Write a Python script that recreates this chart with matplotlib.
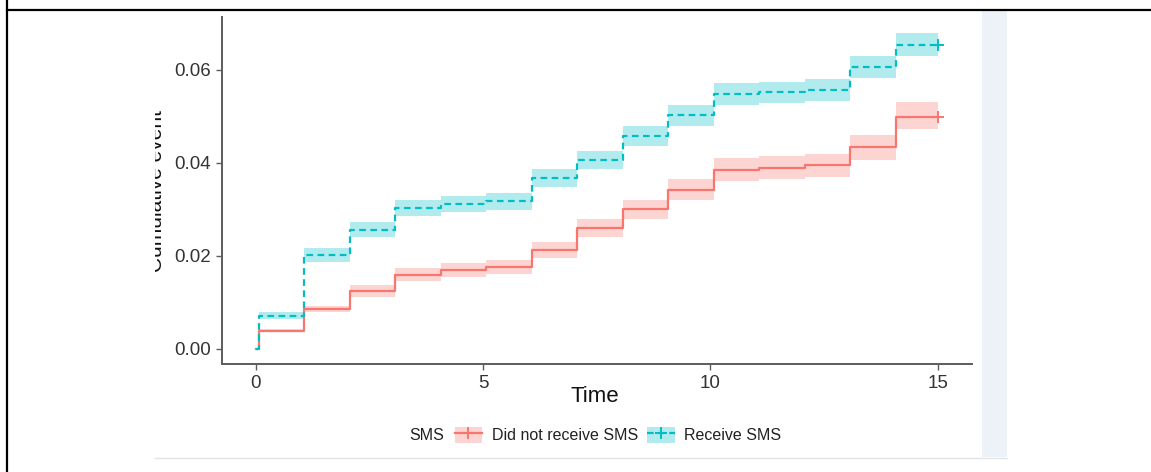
import matplotlib
matplotlib.use("Agg")
import matplotlib.pyplot as plt
from matplotlib.lines import Line2D
from matplotlib.patches import Patch, Rectangle
from matplotlib.transforms import Bbox, TransformedBbox

plt.rcParams["font.family"] = ["Liberation Sans", "DejaVu Sans"]

# event times (same for both groups) and end of follow-up
times = [0.0, 0.07, 1.07, 2.07, 3.07, 4.07, 5.07, 6.07, 7.07, 8.07,
         9.07, 10.07, 11.07, 12.07, 13.07, 14.07]
t_end = 15

# Receive SMS
sms_est = [0.0, 0.0071, 0.0202, 0.0256, 0.0303, 0.0312, 0.0317, 0.0367,
           0.0406, 0.0458, 0.0502, 0.0548, 0.0552, 0.0557, 0.0607, 0.0654]
sms_low = [0.0, 0.0063, 0.0187, 0.0240, 0.0286, 0.0295, 0.0299, 0.0348,
           0.0386, 0.0437, 0.0480, 0.0525, 0.0529, 0.0534, 0.0583, 0.0630]
sms_up = [0.0, 0.0079, 0.0216, 0.0272, 0.0320, 0.0329, 0.0335, 0.0386,
          0.0426, 0.0479, 0.0524, 0.0571, 0.0575, 0.0580, 0.0631, 0.0679]

# Did not receive SMS
no_est = [0.0, 0.0039, 0.0085, 0.0125, 0.0159, 0.0170, 0.0176, 0.0213,
          0.0260, 0.0300, 0.0342, 0.0385, 0.0390, 0.0395, 0.0434, 0.0498]
no_low = [0.0, 0.0035, 0.0078, 0.0112, 0.0145, 0.0155, 0.0161, 0.0196,
          0.0241, 0.0280, 0.0319, 0.0360, 0.0365, 0.0370, 0.0407, 0.0472]
no_up = [0.0, 0.0043, 0.0092, 0.0138, 0.0173, 0.0185, 0.0191, 0.0230,
         0.0279, 0.0320, 0.0365, 0.0410, 0.0415, 0.0420, 0.0461, 0.0530]

groups = ["Did not receive SMS", "Receive SMS"]
colors = ["#F8766D", "#00BFC4"]
xticks = [0, 5, 10, 15]
yticks = [0.00, 0.02, 0.04, 0.06]

W, H = 1151, 472
fig = plt.figure(figsize=(W / 100, H / 100), dpi=100)
fig.patch.set_facecolor("white")


def fx(px):
    return px / W


def fy(py):
    return 1 - py / H


# document frame lines and the screenshot edge
fig.add_artist(Line2D([fx(7), fx(7)], [0, 1], color="black", lw=1.6))
fig.add_artist(Line2D([fx(7), 1], [fy(10), fy(10)], color="black", lw=1.6))
fig.add_artist(Rectangle((fx(982), fy(457)), fx(25), fy(11) - fy(457),
                         transform=fig.transFigure, color="#EDF2F9", lw=0))
fig.add_artist(Line2D([fx(155), fx(1007)], [fy(457.5), fy(457.5)],
                      color="#E2E4E8", lw=1))

ax = fig.add_axes([fx(222), fy(364), fx(972) - fx(222), fy(17) - fy(364)])
ax.set_facecolor("white")

series = [(no_est, no_low, no_up), (sms_est, sms_low, sms_up)]
styles = ["-", (0, (3, 2))]
x = times + [t_end]
for (est, low, up), color, ls in zip(series, colors, styles):
    ax.fill_between(x, low + [low[-1]], up + [up[-1]], step="post",
                    color=color, alpha=0.3, lw=0)
    ax.step(x, est + [est[-1]], where="post", color=color, lw=1.6, ls=ls)
    ax.plot([t_end], [est[-1]], marker="+", ms=8, mew=1.4, color=color)

ax.set_xlim(-0.74, 15.75)
ax.set_ylim(-0.0033, 0.0714)
ax.set_xticks(xticks)
ax.set_yticks(yticks)
ax.set_yticklabels([f"{v:.2f}" for v in yticks])
for side in ["top", "right"]:
    ax.spines[side].set_visible(False)
for side in ["left", "bottom"]:
    ax.spines[side].set_color("#5c5c5c")
    ax.spines[side].set_linewidth(1.4)
ax.tick_params(length=4, width=1, color="#5c5c5c", labelsize=13.5,
               labelcolor="#333333", pad=4)

fig.text(fx(595), fy(402), "Time", fontsize=16, ha="center", va="baseline",
         color="#111111")

# y label cut off by the screenshot edge
ylab = fig.text(fx(166), fy(190.5), "Cumulative event", rotation=90,
                fontsize=15, ha="right", va="center", color="#111111")
ylab.set_clip_box(TransformedBbox(Bbox([[fx(155), 0], [1, 1]]), fig.transFigure))
ylab.set_clip_on(True)

# legend
fig.text(fx(409), fy(435), "SMS", fontsize=11.5, ha="left", va="center",
         color="#222222")
handles = []
for color, ls in zip(colors, styles):
    handles.append((Patch(facecolor=color, alpha=0.3, lw=0),
                    Line2D([], [], color=color, lw=1.6, ls=ls, marker="+",
                           ms=8, mew=1.4)))
fig.legend(handles, groups, loc="center", bbox_to_anchor=(fx(618), fy(435)),
           ncol=2, frameon=False, fontsize=11.5, handlelength=1.7,
           handleheight=1.25, handletextpad=0.6, columnspacing=0.6,
           borderpad=0, labelcolor="#222222")

fig.savefig("out.png", dpi=100)
